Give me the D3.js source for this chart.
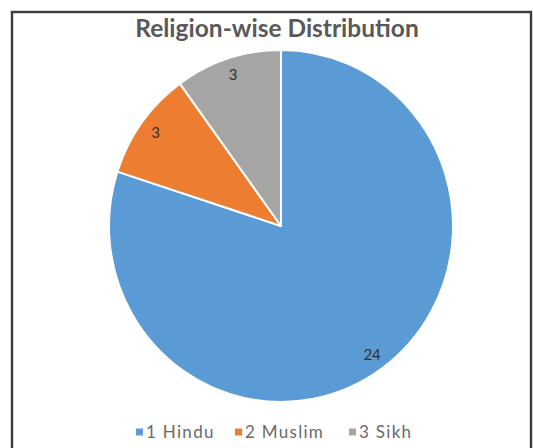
<!DOCTYPE html>
<html>
<head>
<meta charset="utf-8">
<script src="https://cdn.jsdelivr.net/npm/d3@7"></script>
<style>
  html, body { margin: 0; padding: 0; background: #fff; }
  svg { display: block; }
</style>
</head>
<body>
<svg id="chart" width="533" height="448"></svg>
<script>
// Religion-wise distribution data
const categories = ["1 Hindu", "2 Muslim", "3 Sikh"];
const counts = [24, 3, 3];
const colors = ["#5B9BD5", "#ED7D31", "#A5A5A5"];
const titleText = "Religion-wise Distribution";

const svg = d3.select("#chart");

// outer frame of the chart area
svg.append("rect")
  .attr("x", 12).attr("y", 12)
  .attr("width", 519).attr("height", 460)
  .attr("fill", "#fff")
  .attr("stroke", "#3c3c3c")
  .attr("stroke-width", 2.4);

// title
svg.append("text")
  .attr("x", 277).attr("y", 37)
  .attr("text-anchor", "middle")
  .attr("font-family", "Lato, 'Open Sans', sans-serif")
  .attr("font-weight", "bold")
  .attr("font-size", 24.5)
  .attr("fill", "#595959")
  .text(titleText);

// pie geometry
const cx = 281, cy = 226, r = 172, yStretch = 176 / 172;

const data = categories.map((c, i) => ({ name: c, value: counts[i], color: colors[i] }));
const pie = d3.pie().value(d => d.value).sort(null);
const arcs = pie(data);

const arc = d3.arc().innerRadius(0).outerRadius(r);
const labelArc = d3.arc().innerRadius(155).outerRadius(155);

const g = svg.append("g")
  .attr("transform", `translate(${cx},${cy}) scale(1,${yStretch})`);

g.selectAll("path")
  .data(arcs)
  .join("path")
  .attr("d", arc)
  .attr("fill", d => d.data.color)
  .attr("stroke", "#fff")
  .attr("stroke-width", 2)
  .attr("stroke-linejoin", "round");

// data labels
svg.append("g")
  .attr("transform", `translate(${cx},${cy})`)
  .selectAll("text")
  .data(arcs)
  .join("text")
  .attr("x", d => labelArc.centroid(d)[0])
  .attr("y", d => labelArc.centroid(d)[1] * yStretch)
  .attr("dy", "0.35em")
  .attr("text-anchor", "middle")
  .attr("font-family", "Lato, 'Open Sans', sans-serif")
  .attr("font-size", 15)
  .attr("fill", "#333")
  .text(d => d.data.value);

// legend
const legendX = [136, 235, 349];
const items = svg.append("g").selectAll("g")
  .data(data)
  .join("g")
  .attr("transform", (d, i) => `translate(${legendX[i]},432)`);

items.append("rect")
  .attr("x", 0).attr("y", -3.5)
  .attr("width", 7).attr("height", 7)
  .attr("fill", d => d.color);

items.append("text")
  .attr("x", 10).attr("y", 0)
  .attr("dy", "0.36em")
  .attr("font-family", "Lato, 'Open Sans', sans-serif")
  .attr("font-size", 17)
  .attr("letter-spacing", 1.3)
  .attr("fill", "#6a6a6a")
  .text(d => d.name);
</script>
</body>
</html>
